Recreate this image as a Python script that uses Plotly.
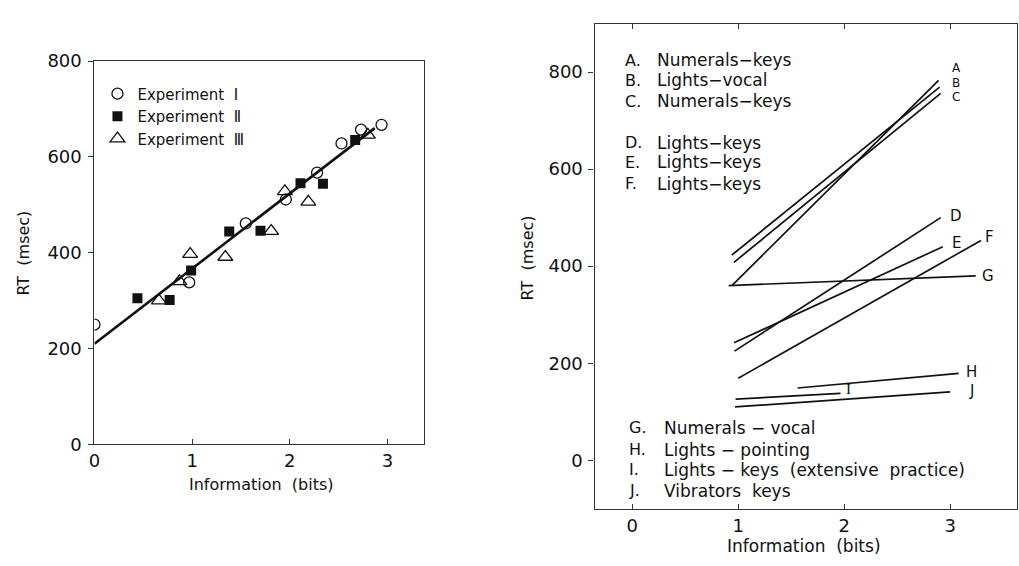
import plotly.graph_objects as go

# ---------------- Left panel data ----------------
exp1_x = [0.0, 0.97, 1.55, 1.96, 2.28, 2.53, 2.73, 2.94]
exp1_y = [250, 338, 461, 511, 567, 628, 657, 667]
exp2_x = [0.44, 0.77, 0.99, 1.38, 1.70, 2.11, 2.34, 2.67]
exp2_y = [305, 301, 363, 444, 446, 545, 544, 635]
exp3_x = [0.66, 0.87, 0.98, 1.34, 1.81, 1.95, 2.19, 2.80]
exp3_y = [300, 340, 397, 391, 445, 528, 506, 646]
fit_x = [0.0, 2.87]
fit_y = [210, 660]
left_xticks = [0, 1, 2, 3]
left_yticks = [0, 200, 400, 600, 800]

# ---------------- Right panel data ----------------
line_ids = ["A", "B", "C", "D", "E", "F", "G", "H", "I", "J"]
line_x0 = [0.94, 0.94, 0.96, 0.965, 0.96, 1.00, 0.91, 1.56, 0.975, 0.97]
line_y0 = [360, 423, 408, 225, 242, 169, 360, 149, 126, 110]
line_x1 = [2.89, 2.90, 2.91, 2.91, 2.93, 3.29, 3.24, 3.08, 1.965, 3.00]
line_y1 = [783, 769, 756, 500, 440, 453, 380, 179, 138, 141]
line_desc = ["Numerals\u2212keys", "Lights\u2212vocal", "Numerals\u2212keys",
             "Lights\u2212keys", "Lights\u2212keys", "Lights\u2212keys",
             "Numerals \u2212 vocal", "Lights \u2212 pointing",
             "Lights \u2212 keys  (extensive  practice)", "Vibrators  keys"]
# end-of-line label positions (data units)
lab_x = [3.055, 3.055, 3.055, 3.055, 3.055, 3.37, 3.355, 3.205, 2.043, 3.205]
lab_y = [808, 778, 748, 503, 448, 461, 380, 182, 147, 143]
# key text rows (data units)
key_y = [824, 783, 740, 654, 614, 570, 67, 22, -20, -63]
right_xticks = [0, 1, 2, 3]
right_yticks = [0, 200, 400, 600, 800]

FONT = "DejaVu Sans"
INK = "#111111"

fig = go.Figure()

# Left panel traces
fig.add_trace(go.Scatter(x=exp1_x, y=exp1_y, mode="markers", name="Experiment  \u2160",
                         marker=dict(symbol="circle-open", size=11, color=INK, line=dict(width=1.3)),
                         xaxis="x", yaxis="y"))
fig.add_trace(go.Scatter(x=exp2_x, y=exp2_y, mode="markers", name="Experiment  \u2161",
                         marker=dict(symbol="square", size=10, color=INK),
                         xaxis="x", yaxis="y"))
fig.add_trace(go.Scatter(x=exp3_x, y=exp3_y, mode="markers", name="Experiment  \u2162",
                         marker=dict(symbol="triangle-up-open", size=13, color=INK, line=dict(width=1.3)),
                         xaxis="x", yaxis="y"))
fig.add_trace(go.Scatter(x=fit_x, y=fit_y, mode="lines", showlegend=False,
                         line=dict(color=INK, width=2.6), xaxis="x", yaxis="y"))

# Right panel lines
for i, lid in enumerate(line_ids):
    fig.add_trace(go.Scatter(x=[line_x0[i], line_x1[i]], y=[line_y0[i], line_y1[i]],
                             mode="lines", showlegend=False,
                             line=dict(color=INK, width=1.7), xaxis="x2", yaxis="y2"))

annotations = []
# end labels
for i, lid in enumerate(line_ids):
    small = lid in ("A", "B", "C")
    annotations.append(dict(x=lab_x[i], y=lab_y[i], xref="x2", yref="y2", text=lid,
                            showarrow=False, xanchor="center", yanchor="middle",
                            font=dict(family="Liberation Serif" if lid == "I" else FONT,
                                      size=12 if small else 15, color=INK)))
# key rows
for i, lid in enumerate(line_ids):
    top = i < 6
    annotations.append(dict(x=-0.085 if top else -0.05, y=key_y[i], xref="x2", yref="y2",
                            text=lid + ".", showarrow=False, xanchor="left", yanchor="middle",
                            font=dict(family=FONT, size=16, color=INK)))
    annotations.append(dict(x=0.216 if top else 0.28, y=key_y[i], xref="x2", yref="y2",
                            text=line_desc[i], showarrow=False, xanchor="left", yanchor="middle",
                            font=dict(family=FONT, size=17, color=INK)))

W, H = 1019, 566
def px(xp):
    return xp / W
def py(yp):
    return 1 - yp / H

# axis titles
annotations += [
    dict(x=px(257), y=py(492), xref="paper", yref="paper", text="Information  (bits)",
         showarrow=False, xanchor="center", yanchor="middle", font=dict(family=FONT, size=16, color=INK)),
    dict(x=px(803), y=py(556), xref="paper", yref="paper", text="Information  (bits)",
         showarrow=False, xanchor="center", yanchor="middle", font=dict(family=FONT, size=17, color=INK)),
    dict(x=px(18), y=py(251), xref="paper", yref="paper", text="RT  (msec)", textangle=-90,
         showarrow=False, xanchor="center", yanchor="middle", font=dict(family=FONT, size=16, color=INK)),
    dict(x=px(525), y=py(256), xref="paper", yref="paper", text="RT  (msec)", textangle=-90,
         showarrow=False, xanchor="center", yanchor="middle", font=dict(family=FONT, size=16, color=INK)),
]

axis_common = dict(showgrid=False, zeroline=False, showline=True, linecolor="#333333",
                   linewidth=1.2, tickcolor="#333333", ticklen=5, tickwidth=1.2,
                   tickfont=dict(family=FONT, size=18, color=INK))

fig.update_layout(
    width=W, height=H, margin=dict(l=0, r=0, t=0, b=0),
    paper_bgcolor="white", plot_bgcolor="white",
    showlegend=True,
    legend=dict(x=px(92), y=py(69), xanchor="left", yanchor="top",
                bgcolor="rgba(0,0,0,0)", borderwidth=0,
                font=dict(family=FONT, size=15, color=INK), itemwidth=30),
    xaxis=dict(domain=[px(89), px(420)], range=[0, 3.37], anchor="y",
               tickvals=left_xticks, ticks="inside", mirror=True, **axis_common),
    yaxis=dict(domain=[py(450), py(52)], range=[0, 800], anchor="x",
               tickvals=left_yticks, ticks="outside", mirror=True, ticklabelstandoff=3,
               **axis_common),
    xaxis2=dict(domain=[px(592), px(1017)], range=[-0.356, 3.63], anchor="y2",
                tickvals=right_xticks, ticks="inside", mirror="allticks", **axis_common),
    yaxis2=dict(domain=[py(517), py(13)], range=[-100, 900], anchor="x2",
                tickvals=right_yticks, ticks="outside", mirror=True, ticklabelstandoff=2,
                **axis_common),
    yaxis3=dict(overlaying="y2", side="right", anchor="x2", range=[-100, 900],
                tickvals=right_yticks, ticks="inside", ticklen=6, tickcolor="#333333",
                tickwidth=1.2, showticklabels=False, showgrid=False, zeroline=False,
                showline=False),
    annotations=annotations,
)

fig.write_html("out.html")
